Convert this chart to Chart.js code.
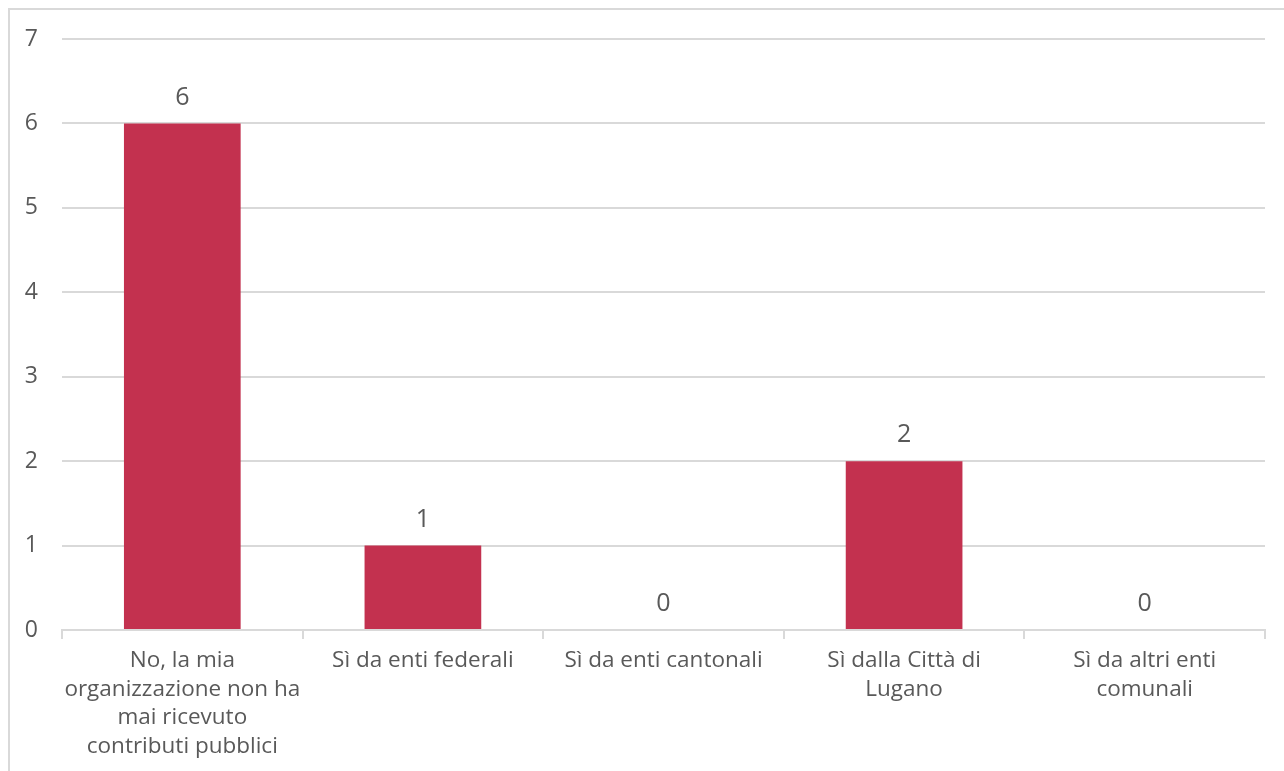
<!DOCTYPE html>
<html>
<head>
<meta charset="utf-8">
<script src="https://cdn.jsdelivr.net/npm/chart.js@4/dist/chart.umd.min.js"></script>
<style>
  html, body { margin: 0; padding: 0; background: #fff; overflow: hidden; }
  #wrap { position: relative; width: 1284px; height: 771px; }
  #frame { position: absolute; left: 8px; top: 8px; width: 1300px; height: 800px; border: 2px solid #d9d9d9; box-sizing: border-box; }
  canvas { position: absolute; left: 0; top: 0; }
</style>
</head>
<body>
<div id="wrap">
  <div id="frame"></div>
  <canvas id="c" width="1284" height="771"></canvas>
</div>
<script>
const categories = [
  ["No, la mia", "organizzazione non ha", "mai ricevuto", "contributi pubblici"],
  ["Sì da enti federali"],
  ["Sì da enti cantonali"],
  ["Sì dalla Città di", "Lugano"],
  ["Sì da altri enti", "comunali"]
];
const counts = [6, 1, 0, 2, 0];
const yTicks = [0, 1, 2, 3, 4, 5, 6, 7];

const textColor = "#595959";
const gridColor = "#d9d9d9";
const barColor = "#c3314f";
const fontFamily = "'Open Sans', Lato, sans-serif";

// value labels above bars
const barValues = {
  id: "barValues",
  afterDatasetsDraw(chart) {
    const { ctx } = chart;
    const meta = chart.getDatasetMeta(0);
    ctx.save();
    ctx.fillStyle = textColor;
    ctx.font = "25px " + fontFamily;
    ctx.textAlign = "center";
    ctx.textBaseline = "middle";
    meta.data.forEach((bar, i) => {
      ctx.fillText(String(counts[i]), bar.x, bar.y - 26);
    });
    ctx.restore();
  }
};

new Chart(document.getElementById("c"), {
  type: "bar",
  data: {
    labels: categories,
    datasets: [{
      data: counts,
      backgroundColor: barColor,
      barPercentage: 0.485,
      categoryPercentage: 1
    }]
  },
  options: {
    responsive: false,
    animation: false,
    layout: { padding: { top: 39, right: 19, left: 0, bottom: 0 } },
    plugins: { legend: { display: false }, tooltip: { enabled: false } },
    scales: {
      x: {
        grid: { display: true, offset: true, drawOnChartArea: false, color: gridColor, lineWidth: 2, tickLength: 9 },
        border: { display: true, color: gridColor, width: 2 },
        ticks: { color: textColor, font: { family: fontFamily, size: 22.5, lineHeight: 1.28 }, padding: 7, maxRotation: 0, autoSkip: false },
        afterFit(s) { s.height = 771 - 630; }
      },
      y: {
        min: 0,
        max: 7,
        afterBuildTicks(s) { s.ticks = yTicks.map(v => ({ value: v })); },
        grid: { color: gridColor, lineWidth: 2, drawTicks: false },
        border: { display: false },
        ticks: { color: textColor, font: { family: fontFamily, size: 23 }, padding: 24 },
        afterFit(s) { s.width = 62; }
      }
    }
  },
  plugins: [barValues]
});
</script>
</body>
</html>
